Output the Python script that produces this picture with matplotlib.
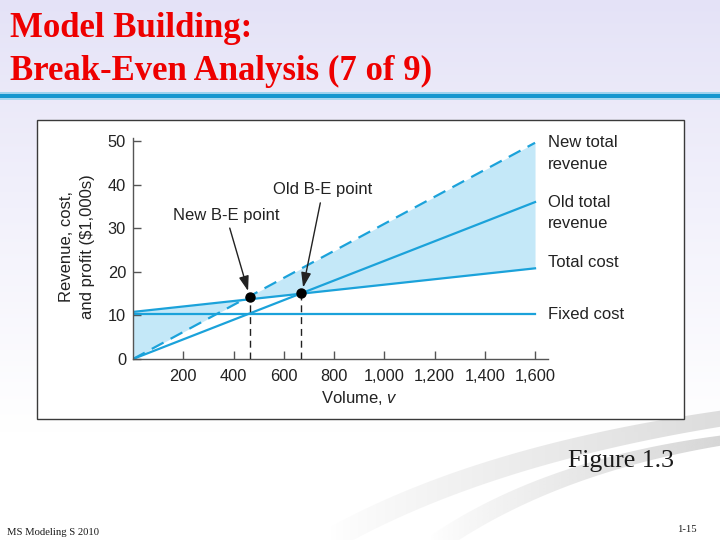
import matplotlib
matplotlib.use('Agg')
import matplotlib.pyplot as plt
import numpy as np
from matplotlib.patches import Rectangle, Polygon

plt.rcParams['font.family'] = ['Liberation Sans', 'DejaVu Sans']
plt.rcParams['mathtext.fontset'] = 'custom'
plt.rcParams['mathtext.it'] = 'Liberation Sans:italic'
plt.rcParams['mathtext.rm'] = 'Liberation Sans'

# ---------------- data ----------------
volume = [0, 1600]
fixed_cost = [10.3, 10.3]
total_cost = [10.8, 20.8]
old_revenue = [0.0, 36.0]
new_revenue = [0.0, 49.6]
be_volume = [466, 669]
be_value = [14.2, 15.1]
x_ticks = [200, 400, 600, 800, 1000, 1200, 1400, 1600]
x_tick_labels = ['200', '400', '600', '800', '1,000', '1,200', '1,400', '1,600']
y_ticks = [0, 10, 20, 30, 40, 50]
y_tick_labels = ['0', '10', '20', '30', '40', '50']
line_labels = ['New total\nrevenue', 'Old total\nrevenue', 'Total cost', 'Fixed cost']
line_label_y = [47.1, 33.5, 22.1, 10.1]

title_lines = ['Model Building:', 'Break-Even Analysis (7 of 9)']

LINE = '#1ba2da'
FILL = '#c4e8f8'
RED = '#ee0000'
DARK = '#222222'

fig = plt.figure(figsize=(7.2, 5.4), dpi=100)

# ---------------- slide background ----------------
bg = fig.add_axes([0, 0, 1, 1], zorder=-10)
bg.set_xlim(0, 720)
bg.set_ylim(540, 0)
bg.axis('off')
rows = np.linspace(0, 1, 540)[:, None]
top = np.array([228, 226, 247]) / 255.0
bot = np.array([255, 255, 255]) / 255.0
w = np.clip(rows / 0.8, 0, 1) ** 0.9
grad = top[None, None, :] * (1 - w[..., None]) + bot[None, None, :] * w[..., None]
grad = np.repeat(grad, 2, axis=1)
bg.imshow(grad, extent=(0, 720, 540, 0), aspect='auto', zorder=0)


def bezier(p0, p1, p2, n=80):
    s = np.linspace(0, 1, n)[:, None]
    p0, p1, p2 = (np.array(p, float) for p in (p0, p1, p2))
    return (1 - s) ** 2 * p0 + 2 * (1 - s) * s * p1 + s ** 2 * p2


def swoosh(p0, p1, p2, t0, t1, gray, a0, a1):
    c = bezier(p0, p1, p2)
    th = np.linspace(t0, t1, len(c))
    upper = np.column_stack([c[:, 0], c[:, 1] - th])
    lower = np.column_stack([c[:, 0], c[:, 1] + th])[::-1]
    poly = Polygon(np.vstack([upper, lower]), closed=True, fc='none', ec='none',
                   transform=bg.transData)
    bg.add_patch(poly)
    x0, x1 = c[:, 0].min(), c[:, 0].max()
    img = np.zeros((2, 256, 4))
    img[..., :3] = gray
    img[..., 3] = np.linspace(a0, a1, 256)[None, :] ** 0.8
    im = bg.imshow(img, extent=(x0, x1, 560, 380), aspect='auto', zorder=1,
                   interpolation='bilinear')
    im.set_clip_path(poly)


swoosh((330, 540), (480, 455), (725, 418), 13, 8, 0.84, 0.0, 0.8)
swoosh((430, 548), (545, 466), (725, 440), 12, 5, 0.80, 0.0, 0.75)
bg.set_xlim(0, 720)
bg.set_ylim(540, 0)

# title
bg.text(10, 37, title_lines[0], fontsize=25, fontweight='bold',
        family='Liberation Serif', color=RED, va='baseline', ha='left', zorder=3)
bg.text(10, 80, title_lines[1], fontsize=25, fontweight='bold',
        family='Liberation Serif', color=RED, va='baseline', ha='left', zorder=3)
# title rule
bg.add_patch(Rectangle((0, 92), 720, 2, fc='#9fd3ee', ec='none', zorder=3))
bg.add_patch(Rectangle((0, 94), 720, 4, fc='#1597cf', ec='none', zorder=3))
bg.add_patch(Rectangle((0, 98), 720, 1.5, fc='#a8d8f0', ec='none', zorder=3))

# footer
bg.text(568, 467, 'Figure 1.3', fontsize=18.5, family='Liberation Serif',
        color='#1a1a1a', va='baseline', ha='left', zorder=3)
bg.text(7, 535, 'MS Modeling S 2010', fontsize=7.7, family='Liberation Serif',
        color='#1a1a1a', va='baseline', ha='left', zorder=3)
bg.text(697, 532, '1-15', fontsize=7.7, family='Liberation Serif',
        color='#1a1a1a', va='baseline', ha='right', zorder=3)

# figure frame
bg.add_patch(Rectangle((37, 120), 647, 299, fc='white', ec='#3a3a3a', lw=1.0, zorder=2))

# ---------------- chart ----------------
ax = fig.add_axes([133 / 720, 1 - 359 / 540, 414.6 / 720, 221 / 540], zorder=1)
ax.patch.set_alpha(0)
ax.set_xlim(0, 1650)
ax.set_ylim(0, 50.7)

vgrid = np.linspace(volume[0], volume[-1], 801)
tc = np.interp(vgrid, volume, total_cost)
nr = np.interp(vgrid, volume, new_revenue)
ax.fill_between(vgrid, tc, nr, color=FILL, lw=0, zorder=1)

ax.plot(volume, fixed_cost, color=LINE, lw=1.6, zorder=2)
ax.plot(volume, total_cost, color=LINE, lw=1.6, zorder=2)
ax.plot(volume, old_revenue, color=LINE, lw=1.6, zorder=2)
ax.plot(volume, new_revenue, color=LINE, lw=1.6, ls=(0, (6, 3.6)), zorder=2)

ax.vlines(be_volume, 0, be_value, colors=DARK, lw=1.0, linestyles=(0, (5, 3.5)), zorder=3)
ax.plot(be_volume, be_value, 'o', color='black', ms=6.5, zorder=4)

arrow = dict(arrowstyle='-|>,head_length=0.75,head_width=0.25', color=DARK, lw=1.0,
             shrinkA=2, shrinkB=0)
ax.annotate('New B-E point', xy=(458, 15.6), xytext=(370, 33.0),
            ha='center', va='center', fontsize=12, color=DARK, arrowprops=arrow, zorder=5)
ax.annotate('Old B-E point', xy=(677, 16.4), xytext=(756, 38.8),
            ha='center', va='center', fontsize=12, color=DARK, arrowprops=arrow, zorder=5)

for lab, yy in zip(line_labels, line_label_y):
    ax.text(1652, yy, lab, ha='left', va='center', fontsize=12, color=DARK,
            linespacing=1.55, clip_on=False)

for s in ['top', 'right']:
    ax.spines[s].set_visible(False)
for s in ['left', 'bottom']:
    ax.spines[s].set_color('#555555')
    ax.spines[s].set_linewidth(1.0)

ax.set_xticks(x_ticks)
ax.set_xticklabels(x_tick_labels)
ax.set_yticks(y_ticks)
ax.set_yticklabels(y_tick_labels)
ax.tick_params(axis='both', direction='in', length=6, width=1.0, color='#555555',
               labelsize=11.8, labelcolor=DARK)
ax.tick_params(axis='x', pad=7)
ax.tick_params(axis='y', pad=5)

ax.set_xlabel('Volume, $\\mathit{v}$', fontsize=12, color=DARK)
ax.xaxis.label.set_verticalalignment('center')
ax.xaxis.set_label_coords(0.545, -0.176)
ax.set_ylabel('Revenue, cost,\nand profit ($1,000s)', fontsize=12, color=DARK, linespacing=1.45)
ax.yaxis.label.set_verticalalignment('center')
ax.yaxis.set_label_coords(-0.135, 0.51)

fig.savefig('out.png', dpi=100)
